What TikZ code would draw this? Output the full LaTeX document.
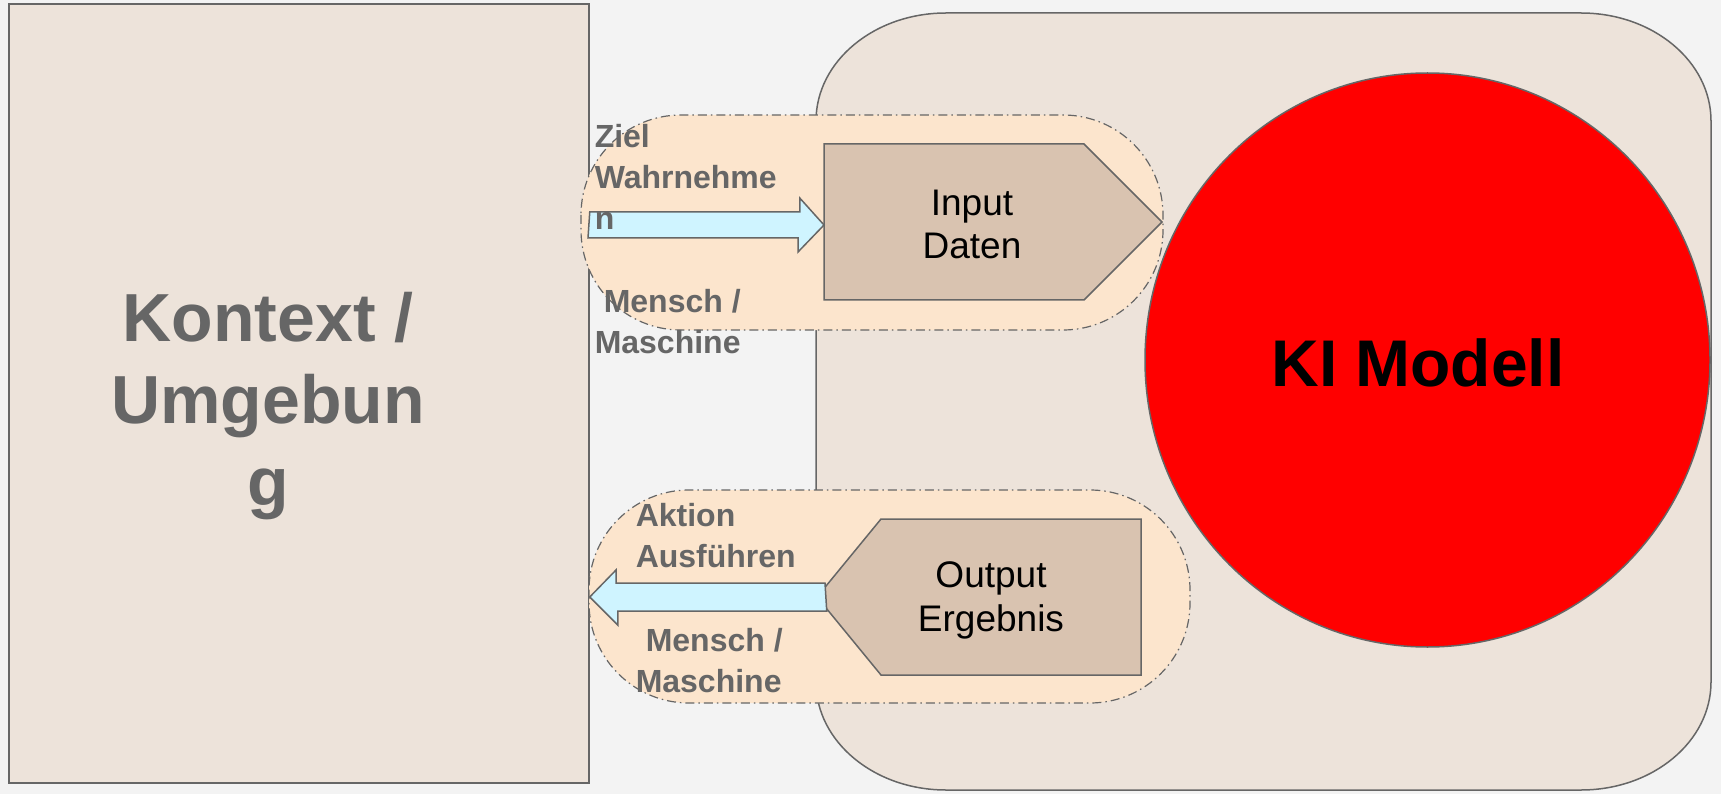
\documentclass[tikz,border=0pt]{standalone}
\usepackage{fontspec}
\setmainfont{Liberation Sans}
\usetikzlibrary{positioning}

\definecolor{pageGray}{RGB}{243,243,243}
\definecolor{boxFill}{RGB}{237,227,218}
\definecolor{capsFill}{RGB}{252,229,205}
\definecolor{pentFill}{RGB}{217,195,176}
\definecolor{arrowFill}{RGB}{207,244,255}
\definecolor{lineGray}{RGB}{102,102,102}

\tikzset{every picture/.style={line width=1.5pt}}
\tikzset{
	grayline/.style={draw=lineGray, line width=1.5pt},
	ctxbox/.style={grayline, fill=boxFill},
	capsule/.style={draw=lineGray, line width=1.2pt, fill=capsFill, dash pattern=on 9pt off 4pt on 1.5pt off 4pt, rounded corners=100pt},
	pentbox/.style={grayline, fill=pentFill, line join=miter},
	blockarrow/.style={grayline, fill=arrowFill, line join=miter},
	sidelabel/.style={text=lineGray, font=\bfseries\fontsize{32}{41}\selectfont, anchor=base west, align=left, inner sep=0pt},
	boxlabel/.style={font=\fontsize{37}{43.5}\selectfont, align=center, anchor=base, inner sep=0pt},
}

\begin{document}
\begin{tikzpicture}[x=1pt,y=1pt,yscale=-1,xscale=1]
	%Background
	\fill[pageGray] (0,0) rectangle (1721,794);
	\useasboundingbox (0,0) rectangle (1721,794);

	%Shape: Rectangle [Kontext]
	\node[ctxbox, minimum width=580pt, minimum height=779pt, inner sep=0pt] (ctx) at (299,393.5) {};
	%Shape: Rounded Rectangle [KI system]
	\draw[ctxbox] (946,13) -- (1581,13) arc[start angle=-90, end angle=0, x radius=130, y radius=108]
		-- (1711,682) arc[start angle=0, end angle=90, x radius=130, y radius=108]
		-- (946,790) arc[start angle=90, end angle=180, x radius=130, y radius=108]
		-- (816,121) arc[start angle=180, end angle=270, x radius=130, y radius=108] -- cycle;
	%Shape: Ellipse [KI Modell]
	\draw[grayline, fill=red] (1427.5,360) ellipse [x radius=282.5, y radius=287];

	%Shape: Capsules
	\draw[capsule] (581,115) rectangle (1163,330);
	\draw[capsule] (589,490) rectangle (1190,703);

	%Shape: Pentagons
	\draw[pentbox] (824,144) -- (1084,144) -- (1162,222) coordinate (inEnd) -- (1084,300) -- (824,300) coordinate (inSW) -- cycle;
	\draw[pentbox] (1141,519) -- (881,519) -- (817,597) coordinate (outEnd) -- (881,675) -- (1141,675) -- cycle;

	%Block Arrows
	\coordinate (inTip) at (824,225);
	\coordinate (inTail) at (ctx.east |- inTip);
	\draw[blockarrow] (inTail) ++(0,-13) -- ++(210,0) -- ++(0,-14) -- (inTip) -- ++(-26,27) -- ++(0,-14) -- ++(-210,0) -- cycle;
	\coordinate (outTip) at (ctx.east |- 0,597);
	\coordinate (outTail) at (825,597);
	\draw[blockarrow] (outTail) ++(0,-14) -- ++(-209,0) -- ++(0,-13) -- (outTip) -- ++(28,28) -- ++(0,-14) -- ++(209,0) -- cycle;

	% Text Node
	\node[text=lineGray, font=\bfseries\fontsize{68}{82}\selectfont, align=center, anchor=base, inner sep=0pt] (ctxText) at (268,505) {Kontext /\\Umgebun\\g};
	% Text Node
	\node[font=\bfseries\fontsize{66}{79}\selectfont, anchor=base, inner sep=0pt] (kiText) at (1418,386) {KI Modell};
	% Text Node
	\node[boxlabel] (inText) at (972,259) {Input\\Daten};
	% Text Node
	\node[boxlabel] (outText) at (991,631) {Output\\Ergebnis};
	% Text Node
	\node[sidelabel] (zielText) at (594,230) {Ziel\\Wahrnehme\\n};
	% Text Node
	\node[sidelabel] (inWho) at (594,353) {\hspace*{9pt}Mensch /\\Maschine};
	% Text Node
	\node[sidelabel] (aktText) at (635,567) {Aktion\\Ausführen};
	% Text Node
	\node[sidelabel] (outWho) at (635,692) {\hspace*{10pt}Mensch /\\Maschine};

\end{tikzpicture}
\end{document}
